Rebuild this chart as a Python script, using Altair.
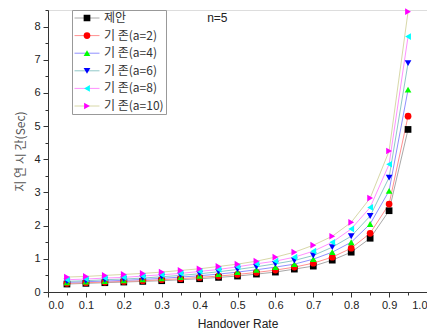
import altair as alt
import pandas as pd

x_vals = [0.05, 0.10, 0.15, 0.20, 0.25, 0.30, 0.35, 0.40, 0.45, 0.50,
          0.55, 0.60, 0.65, 0.70, 0.75, 0.80, 0.85, 0.90, 0.95]

series_names = ["제안", "기 존(a=2)", "기 존(a=4)", "기 존(a=6)", "기 존(a=8)", "기 존(a=10)"]

proposed = [0.24, 0.26, 0.28, 0.30, 0.32, 0.34, 0.37, 0.40, 0.44, 0.48,
            0.54, 0.60, 0.69, 0.78, 0.96, 1.20, 1.62, 2.45, 4.90]
a2 = [0.26, 0.28, 0.30, 0.32, 0.34, 0.37, 0.40, 0.44, 0.48, 0.53,
      0.59, 0.66, 0.75, 0.87, 1.05, 1.32, 1.77, 2.65, 5.30]
a4 = [0.29, 0.31, 0.33, 0.35, 0.38, 0.41, 0.45, 0.49, 0.54, 0.60,
      0.67, 0.75, 0.84, 0.99, 1.20, 1.50, 2.05, 3.05, 6.10]
a6 = [0.32, 0.34, 0.37, 0.39, 0.42, 0.46, 0.50, 0.55, 0.61, 0.68,
      0.76, 0.85, 0.95, 1.10, 1.35, 1.68, 2.29, 3.45, 6.90]
a8 = [0.37, 0.39, 0.42, 0.44, 0.48, 0.52, 0.56, 0.62, 0.68, 0.76,
      0.85, 0.93, 1.05, 1.23, 1.50, 1.90, 2.55, 3.85, 7.70]
a10 = [0.45, 0.47, 0.50, 0.53, 0.56, 0.60, 0.65, 0.70, 0.77, 0.84,
       0.93, 1.05, 1.20, 1.41, 1.68, 2.10, 2.83, 4.25, 8.45]

marker_colors = ["#000000", "#ff0000", "#00ff00", "#0000ff", "#00ffff", "#ff00ff"]
line_colors = ["#a8a8a8", "#ff9090", "#9090ff", "#90c8c8", "#ff90ff", "#d8d8a8"]
shapes = ["square", "circle", "triangle-up", "triangle-down", "triangle-left", "triangle-right"]

line_names = [n + " " for n in series_names]

all_series = [proposed, a2, a4, a6, a8, a10]
rows = []
for name, lname, vals in zip(series_names, line_names, all_series):
    for xv, yv in zip(x_vals, vals):
        rows.append({"x": xv, "y": yv, "series": name, "line_series": lname})
df = pd.DataFrame(rows)

FONT = "Liberation Sans"
KFONT = "Noto Sans CJK KR"

x_axis = alt.Axis(
    values=[round(0.05 * i, 2) for i in range(21)],
    labelExpr="round(datum.value*100) % 10 == 0 ? format(datum.value, '.1f') : ''",
    labelOverlap=False,
    tickSize={"condition": {"test": "round(datum.value*100) % 10 != 0", "value": 3}, "value": 5},
    grid=False, labelFont=FONT, labelFontSize=11, labelColor="#222",
    titleFont=FONT, titleFontSize=12, titleFontWeight="normal", titleColor="#222",
    titlePadding=8, domainColor="#333", tickColor="#333", labelPadding=2,
)
y_axis = alt.Axis(
    values=[0.5 * i for i in range(18)],
    labelExpr="datum.value % 1 == 0 ? format(datum.value, 'd') : ''",
    labelOverlap=False,
    tickSize={"condition": {"test": "datum.value % 1 != 0", "value": 3}, "value": 5},
    grid=False, labelFont=FONT, labelFontSize=11, labelColor="#222",
    titleFont=KFONT, titleFontSize=12, titleFontWeight="normal", titleColor="#555",
    titlePadding=6, domainColor="#333", tickColor="#333", labelPadding=3,
)

xenc = alt.X("x:Q", scale=alt.Scale(domain=[0, 1], nice=False), axis=x_axis, title="Handover Rate")
yenc = alt.Y("y:Q", scale=alt.Scale(domain=[0, 8.5], nice=False), axis=y_axis, title="지 연 시  간(Sec)")

lines = alt.Chart(df).mark_line(strokeWidth=1).encode(
    x=xenc, y=yenc,
    stroke=alt.Stroke("line_series:N", scale=alt.Scale(domain=line_names, range=line_colors),
                      legend=alt.Legend(orient="none", legendX=24, legendY=0, title=None,
                                        symbolType="stroke", symbolSize=625, symbolStrokeWidth=1,
                                        labelColor="transparent", labelFont=KFONT, labelFontSize=12,
                                        labelOffset=4, padding=2, rowPadding=5.6, clipHeight=12,
                                        strokeColor="#999", fillColor="white")),
)

points = alt.Chart(df).mark_point(filled=True, size=45, opacity=1, strokeWidth=0).encode(
    x=xenc, y=yenc,
    fill=alt.Fill("series:N", scale=alt.Scale(domain=series_names, range=marker_colors),
                  legend=alt.Legend(orient="none", legendX=31, legendY=0, title=None,
                                    symbolSize=45, symbolStrokeWidth=0, symbolOpacity=1,
                                    labelColor="#333", labelFont=KFONT, labelFontSize=12,
                                    labelOffset=11, padding=2, rowPadding=5.6, clipHeight=12)),
    shape=alt.Shape("series:N", scale=alt.Scale(domain=series_names, range=shapes),
                    legend=alt.Legend(orient="none", legendX=31, legendY=0, title=None)),
)

note_df = pd.DataFrame({"x": [0.42], "y": [8.25], "t": ["n=5"]})
note = alt.Chart(note_df).mark_text(font=FONT, fontSize=12, color="#222", align="left").encode(
    x=xenc, y=yenc, text="t:N"
)

chart = alt.layer(lines, points, note).properties(
    width=379, height=282,
    autosize=alt.AutoSizeParams(type="none"),
    padding={"left": 40, "top": 2, "right": 0, "bottom": 42},
).configure_view(stroke=None).configure(background="white")

chart.save("out.html", embed_options={"renderer": "svg", "actions": False})
